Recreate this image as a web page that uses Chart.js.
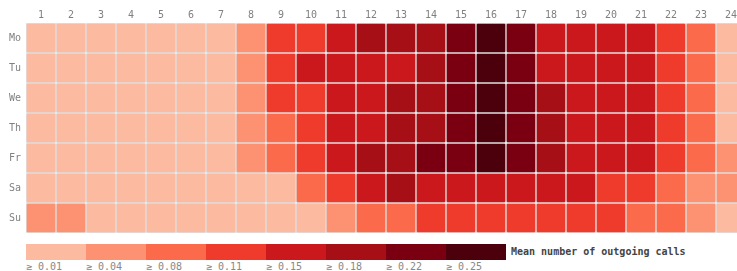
<!DOCTYPE html>
<html>
<head>
<meta charset="utf-8">
<script src="https://cdn.jsdelivr.net/npm/chart.js@4/dist/chart.umd.min.js"></script>
<style>
  body { margin: 0; background: #fff; overflow: hidden; width: 737px; height: 271px; position: relative; }
  #heat { position: absolute; left: 0; top: 0; }
  .legend { position: absolute; left: 26px; top: 244px; display: flex; }
  .legend div { width: 60px; height: 16px; }
  .legend-labels { position: absolute; left: 26px; top: 261px; display: flex;
    font: 10px "DejaVu Sans Mono", monospace; color: #888; }
  .legend-labels span { width: 60px; }
  .legend-title { position: absolute; left: 511px; top: 246px;
    font: bold 10px "DejaVu Sans Mono", monospace; color: #444; }
</style>
</head>
<body>
<canvas id="heat" width="746" height="233"></canvas>
<div class="legend" id="legend"></div>
<div class="legend-labels" id="legend-labels"></div>
<div class="legend-title">Mean number of outgoing calls</div>
<script>
const hours = ['1','2','3','4','5','6','7','8','9','10','11','12','13','14','15','16','17','18','19','20','21','22','23','24'];
const days = ['Mo', 'Tu', 'We', 'Th', 'Fr', 'Sa', 'Su'];

// mean outgoing calls per weekday (rows) and hour (columns)
const mo = [0.021,0.018,0.016,0.015,0.015,0.017,0.026,0.062,0.128,0.135,0.163,0.196,0.201,0.205,0.236,0.262,0.234,0.171,0.168,0.166,0.164,0.139,0.099,0.032];
const tu = [0.020,0.017,0.015,0.014,0.015,0.016,0.027,0.065,0.131,0.152,0.168,0.172,0.159,0.188,0.238,0.266,0.237,0.170,0.167,0.165,0.163,0.137,0.097,0.031];
const we = [0.022,0.018,0.016,0.015,0.014,0.017,0.028,0.064,0.127,0.141,0.165,0.173,0.193,0.199,0.239,0.268,0.235,0.184,0.169,0.166,0.162,0.138,0.096,0.033];
const th = [0.021,0.019,0.016,0.015,0.015,0.016,0.027,0.061,0.104,0.137,0.166,0.174,0.194,0.203,0.241,0.270,0.236,0.186,0.170,0.167,0.164,0.136,0.098,0.035];
const fr = [0.023,0.019,0.017,0.015,0.015,0.017,0.028,0.063,0.102,0.139,0.169,0.191,0.207,0.228,0.243,0.272,0.238,0.189,0.172,0.168,0.165,0.141,0.101,0.047];
const sa = [0.034,0.026,0.020,0.017,0.016,0.017,0.019,0.027,0.036,0.094,0.126,0.161,0.183,0.171,0.167,0.164,0.162,0.163,0.158,0.143,0.132,0.091,0.068,0.052];
const su = [0.045,0.042,0.031,0.022,0.019,0.018,0.018,0.021,0.029,0.037,0.071,0.089,0.094,0.118,0.126,0.131,0.129,0.127,0.124,0.117,0.105,0.092,0.062,0.035];
const rows = [mo, tu, we, th, fr, sa, su];

const thresholds = [0.01, 0.04, 0.08, 0.11, 0.15, 0.18, 0.22, 0.25];
const colors = ['#fcbba1', '#fc9272', '#fb6a4a', '#ef3b2c', '#cb181d', '#a50f15', '#7a0011', '#4b000c'];

function colorFor(v) {
    let c = colors[0];
    thresholds.forEach((t, i) => { if (v >= t) c = colors[i]; });
    return c;
}

const tickFont = { family: 'DejaVu Sans Mono', size: 10 };

const datasets = rows.map((row, i) => ({
    label: days[i],
    data: row.map(() => 1),
    backgroundColor: row.map(colorFor),
    borderColor: '#dedede',
    borderWidth: 1,
    borderSkipped: false,
    borderRadius: { topLeft: 2, topRight: 2, bottomLeft: 2, bottomRight: 2 },
    barPercentage: 1,
    categoryPercentage: 1
}));

new Chart(document.getElementById('heat').getContext('2d'), {
    type: 'bar',
    data: { labels: hours, datasets: datasets },
    options: {
        responsive: false,
        animation: false,
        layout: { padding: 0 },
        plugins: { legend: { display: false }, tooltip: { enabled: false } },
        scales: {
            x: {
                position: 'top',
                stacked: true,
                grid: { display: false, drawTicks: false },
                border: { display: false },
                ticks: { color: '#808080', font: tickFont, padding: 2, maxRotation: 0 },
                afterFit: (scale) => {
                    scale.height = 23;
                    scale.paddingLeft = 0;
                    scale.paddingRight = 0;
                }
            },
            y: {
                stacked: true,
                reverse: true,
                min: 0,
                max: 7,
                grid: { display: false, drawTicks: false },
                border: { display: false },
                afterBuildTicks: (scale) => { scale.ticks = days.map((d, i) => ({ value: i + 0.5 })); },
                ticks: { color: '#808080', font: tickFont, padding: 5, callback: (v, i) => days[i] },
                afterFit: (scale) => {
                    scale.width = 26;
                    scale.paddingTop = 0;
                    scale.paddingBottom = 0;
                }
            }
        }
    }
});

const legend = document.getElementById('legend');
const legendLabels = document.getElementById('legend-labels');
thresholds.forEach((t, i) => {
    const box = document.createElement('div');
    box.style.background = colors[i];
    legend.appendChild(box);
    const lab = document.createElement('span');
    lab.textContent = '≥ ' + t.toFixed(2);
    legendLabels.appendChild(lab);
});
</script>
</body>
</html>
